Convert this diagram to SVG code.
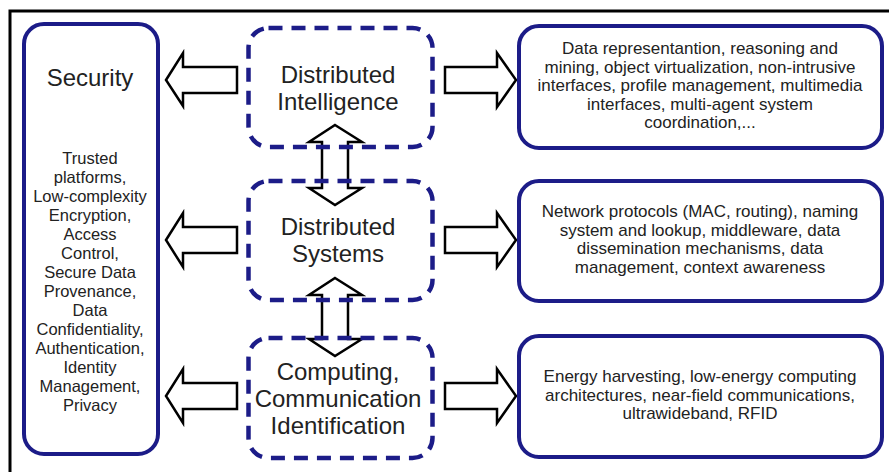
<svg xmlns="http://www.w3.org/2000/svg" width="889" height="472" viewBox="0 0 889 472">
<style>
.frame{fill:none;stroke:#000;stroke-width:3}
.solid{fill:#fff;stroke:#1c1c88;stroke-width:4}
.dash{fill:none;stroke:#1c1c88;stroke-width:4.5;stroke-dasharray:14 9}
.arr{fill:#fff;stroke:#000;stroke-width:2.5;stroke-linejoin:miter}
text{font-family:"Liberation Sans",Arial,sans-serif;fill:#222;text-anchor:middle}
.big{font-size:24px}
.sm{font-size:16.5px}
.rt{font-size:17px}
</style>
<rect width="889" height="472" fill="#fff"/>
<path class="frame" d="M10,472 V11 H889"/>
<g id="connectors">
<path class="arr" d="M166,80 L183,53 L183,67 L237,67 L237,93 L183,93 L183,106 Z"/>
<path class="arr" d="M166,240 L183,213 L183,227 L237,227 L237,253 L183,253 L183,267 Z"/>
<path class="arr" d="M166,396 L183,369 L183,383 L237,383 L237,409 L183,409 L183,423 Z"/>
<path class="arr" d="M445,67 L497,67 L497,53 L516,80 L497,107 L497,93 L445,93 Z"/>
<path class="arr" d="M445,227 L497,227 L497,213 L516,240 L497,267 L497,253 L445,253 Z"/>
<path class="arr" d="M445,383 L497,383 L497,369 L516,396 L497,423 L497,409 L445,409 Z"/>
<path class="arr" d="M335,125 L362,142 L348,142 L348,188 L362,188 L335,205 L309,188 L322,188 L322,142 L309,142 Z"/>
<path class="arr" d="M335,278 L362,295 L348,295 L348,339 L362,339 L335,356 L309,339 L322,339 L322,295 L309,295 Z"/>
</g>
<g id="security">
<rect class="solid" x="24" y="24" width="134" height="430" rx="20"/>
<text class="big" x="90" y="86">Security</text>
<text class="sm" x="90" y="164">Trusted</text>
<text class="sm" x="90" y="183">platforms,</text>
<text class="sm" x="90" y="202">Low-complexity</text>
<text class="sm" x="90" y="221">Encryption,</text>
<text class="sm" x="90" y="240">Access</text>
<text class="sm" x="90" y="259">Control,</text>
<text class="sm" x="90" y="278">Secure Data</text>
<text class="sm" x="90" y="297">Provenance,</text>
<text class="sm" x="90" y="316">Data</text>
<text class="sm" x="90" y="335">Confidentiality,</text>
<text class="sm" x="90" y="354">Authentication,</text>
<text class="sm" x="90" y="373">Identity</text>
<text class="sm" x="90" y="392">Management,</text>
<text class="sm" x="90" y="411">Privacy</text>
</g>
<g id="distributed-intelligence">
<rect class="dash" x="248.5" y="28" width="184" height="119" rx="20"/>
<text class="big" x="338" y="83">Distributed</text>
<text class="big" x="338" y="110">Intelligence</text>
</g>
<g id="distributed-systems">
<rect class="dash" x="248.5" y="181" width="184" height="119" rx="20"/>
<text class="big" x="338" y="235">Distributed</text>
<text class="big" x="338" y="262">Systems</text>
</g>
<g id="computing">
<rect class="dash" x="248.5" y="338" width="184" height="120" rx="20"/>
<text class="big" x="338" y="380">Computing,</text>
<text class="big" x="338" y="407">Communication</text>
<text class="big" x="338" y="434">Identification</text>
</g>
<g id="intelligence-topics">
<rect class="solid" x="519" y="26" width="363" height="122" rx="20"/>
<text class="rt" x="700" y="54">Data representantion, reasoning and</text>
<text class="rt" x="700" y="72.5">mining, object virtualization, non-intrusive</text>
<text class="rt" x="700" y="91">interfaces, profile management, multimedia</text>
<text class="rt" x="700" y="109.5">interfaces, multi-agent system</text>
<text class="rt" x="700" y="128">coordination,...</text>
</g>
<g id="systems-topics">
<rect class="solid" x="519" y="181" width="363" height="120" rx="20"/>
<text class="rt" x="700" y="217">Network protocols (MAC, routing), naming</text>
<text class="rt" x="700" y="235.5">system and lookup, middleware, data</text>
<text class="rt" x="700" y="254">dissemination mechanisms, data</text>
<text class="rt" x="700" y="272.5">management, context awareness</text>
</g>
<g id="computing-topics">
<rect class="solid" x="519" y="336" width="363" height="121" rx="20"/>
<text class="rt" x="700" y="382">Energy harvesting, low-energy computing</text>
<text class="rt" x="700" y="400.5">architectures, near-field communications,</text>
<text class="rt" x="700" y="419">ultrawideband, RFID</text>
</g>
</svg>
